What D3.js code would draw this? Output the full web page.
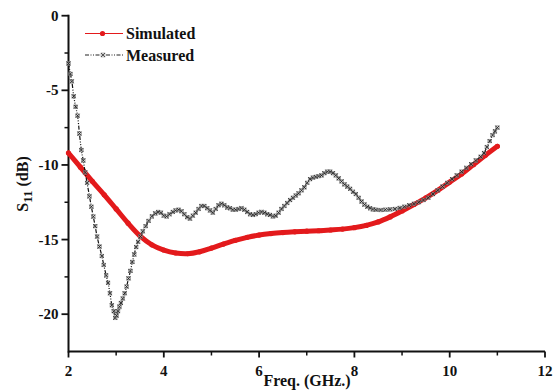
<!DOCTYPE html>
<html><head><meta charset="utf-8">
<script src="https://cdn.jsdelivr.net/npm/d3@7"></script>
<style>body{margin:0;background:#fff}svg{display:block}</style>
</head><body>
<svg id="c" width="556" height="391"></svg>
<script>
// ---- data ----
const simFreq = [2.0,2.25,2.5,2.75,3.0,3.25,3.5,3.75,4.0,4.25,4.5,4.75,5.0,5.25,5.5,5.75,6.0,6.25,6.5,6.75,7.0,7.25,7.5,7.75,8.0,8.25,8.5,8.75,9.0,9.25,9.5,9.75,10.0,10.25,10.5,10.75,11.0];
const simS11 = [-9.2,-10.15,-11.1,-12.0,-12.95,-13.9,-14.75,-15.35,-15.7,-15.9,-15.95,-15.82,-15.57,-15.3,-15.05,-14.85,-14.7,-14.6,-14.53,-14.48,-14.44,-14.41,-14.36,-14.3,-14.2,-14.05,-13.82,-13.48,-13.08,-12.65,-12.2,-11.7,-11.15,-10.6,-9.98,-9.35,-8.75];

const measFreq = [2.00,2.04,2.07,2.11,2.15,2.19,2.23,2.27,2.31,2.35,2.39,2.44,2.48,2.52,2.56,2.60,2.65,2.70,2.74,2.79,2.83,2.87,2.91,2.95,2.98,3.01,3.04,3.07,3.10,3.14,3.18,3.22,3.26,3.30,3.34,3.38,3.42,3.46,3.51,3.56,3.62,3.68,3.75,3.82,3.88,3.94,4.00,4.06,4.12,4.19,4.25,4.31,4.37,4.43,4.49,4.55,4.61,4.67,4.73,4.79,4.85,4.91,4.97,5.03,5.09,5.15,5.21,5.27,5.33,5.39,5.45,5.51,5.57,5.63,5.69,5.75,5.81,5.87,5.93,5.99,6.05,6.11,6.17,6.23,6.29,6.35,6.41,6.47,6.53,6.59,6.65,6.71,6.77,6.83,6.89,6.95,7.01,7.07,7.13,7.19,7.25,7.31,7.37,7.43,7.49,7.55,7.61,7.67,7.73,7.79,7.85,7.91,7.97,8.03,8.09,8.15,8.21,8.27,8.33,8.39,8.45,8.55,8.65,8.75,8.85,8.95,9.05,9.15,9.25,9.35,9.45,9.55,9.65,9.75,9.85,9.95,10.05,10.15,10.25,10.35,10.45,10.55,10.65,10.72,10.78,10.84,10.90,10.95,11.00];
const measS11 = [-3.2,-3.9,-4.4,-5.4,-6.1,-6.7,-7.9,-9.0,-9.7,-10.5,-11.2,-12.1,-12.8,-13.46,-14.1,-14.8,-15.47,-16.1,-16.7,-17.4,-17.9,-18.6,-19.4,-19.8,-20.25,-20.1,-19.8,-19.5,-19.25,-18.95,-18.6,-18.15,-17.6,-17.1,-16.5,-16.0,-15.5,-15.15,-14.8,-14.45,-14.1,-13.75,-13.45,-13.25,-13.15,-13.2,-13.4,-13.45,-13.3,-13.15,-13.05,-13.0,-13.1,-13.3,-13.5,-13.6,-13.4,-13.2,-12.95,-12.75,-12.75,-12.9,-13.05,-13.2,-12.95,-12.7,-12.6,-12.7,-12.85,-12.9,-13.0,-13.0,-12.95,-12.9,-13.0,-13.15,-13.3,-13.35,-13.3,-13.2,-13.15,-13.2,-13.3,-13.35,-13.45,-13.4,-13.2,-12.95,-12.75,-12.55,-12.35,-12.2,-12.05,-11.9,-11.7,-11.5,-11.2,-10.95,-10.85,-10.8,-10.75,-10.7,-10.55,-10.45,-10.45,-10.55,-10.7,-10.9,-11.1,-11.3,-11.45,-11.6,-11.8,-11.95,-12.2,-12.45,-12.65,-12.8,-12.9,-12.98,-13.0,-13.02,-13.0,-12.98,-12.95,-12.88,-12.8,-12.7,-12.6,-12.5,-12.35,-12.2,-11.95,-11.7,-11.45,-11.2,-10.95,-10.7,-10.45,-10.2,-9.95,-9.7,-9.45,-9.2,-8.8,-8.4,-8.0,-7.75,-7.5];

const xTicks = [2,4,6,8,10,12];
const yTicks = [0,-5,-10,-15,-20];
const seriesNames = ["Simulated","Measured"];

// ---- layout ----
const svg = d3.select("#c");
const x = d3.scaleLinear().domain([2,12]).range([68.5,545]);
const y = d3.scaleLinear().domain([-22.5,0]).range([351.5,15.7]);
const font = "'Liberation Serif','Times New Roman',serif";

// axes
const xAxis = svg.append("g").attr("transform","translate(0,351.5)");
xAxis.append("line").attr("x1",x(2)).attr("x2",x(12)).attr("stroke","#111").attr("stroke-width",2);
d3.range(3,12,2).forEach(v=>xAxis.append("line").attr("x1",x(v)).attr("x2",x(v)).attr("y1",0).attr("y2",4).attr("stroke","#111").attr("stroke-width",1.5));
xTicks.forEach(v=>{
  xAxis.append("line").attr("x1",x(v)).attr("x2",x(v)).attr("y1",0).attr("y2",6).attr("stroke","#111").attr("stroke-width",1.8);
  xAxis.append("text").attr("x",x(v)).attr("y",24).attr("text-anchor","middle")
    .attr("font-family",font).attr("font-weight","bold").attr("font-size",15).attr("fill","#111").text(v);
});

const yAxis = svg.append("g").attr("transform","translate(68.5,0)");
yAxis.append("line").attr("y1",y(0)-1).attr("y2",y(-22.5)+1).attr("stroke","#111").attr("stroke-width",2);
[-2.5,-7.5,-12.5,-17.5].forEach(v=>yAxis.append("line").attr("x1",0).attr("x2",-4).attr("y1",y(v)).attr("y2",y(v)).attr("stroke","#111").attr("stroke-width",1.5));
yTicks.forEach(v=>{
  yAxis.append("line").attr("x1",0).attr("x2",-7).attr("y1",y(v)).attr("y2",y(v)).attr("stroke","#111").attr("stroke-width",1.8);
  yAxis.append("text").attr("x",-10).attr("y",y(v)+5).attr("text-anchor","end")
    .attr("font-family",font).attr("font-weight","bold").attr("font-size",15).attr("fill","#111").text(v);
});

// axis titles
svg.append("text").attr("x",307).attr("y",386).attr("text-anchor","middle")
  .attr("font-family",font).attr("font-weight","bold").attr("font-size",16).attr("fill","#111").text("Freq. (GHz.)");
const yl = svg.append("text").attr("transform","translate(28,184) rotate(-90)").attr("text-anchor","middle")
  .attr("font-family",font).attr("font-weight","bold").attr("font-size",16).attr("fill","#111");
yl.append("tspan").text("S");
yl.append("tspan").attr("dy",4).attr("font-size",13).text("11");
yl.append("tspan").attr("dy",-4).text(" (dB)");

// series
const sim = simFreq.map((f,i)=>({f, v:simS11[i]}));
const meas = measFreq.map((f,i)=>({f, v:measS11[i]}));
const red = "#e31a1c";

const line = d3.line().x(d=>x(d.f)).y(d=>y(d.v)).curve(d3.curveCatmullRom);
svg.append("path").datum(sim).attr("d",line).attr("fill","none").attr("stroke",red).attr("stroke-width",5).attr("stroke-linecap","round");
svg.append("g").selectAll("circle").data(sim).join("circle")
  .attr("cx",d=>x(d.f)).attr("cy",d=>y(d.v)).attr("r",2.6).attr("fill",red);

svg.append("path").datum(meas).attr("d",line).attr("fill","none").attr("stroke","#111").attr("stroke-width",1.2)
  .attr("stroke-dasharray","4,1.5,1,1.5,1,1.5");
const mk = svg.append("g");
meas.forEach(d=>{
  const cx=x(d.f), cy=y(d.v), s=1.8;
  mk.append("rect").attr("x",cx-s).attr("y",cy-s).attr("width",2*s).attr("height",2*s)
    .attr("fill","#ccc").attr("fill-opacity",0.5).attr("stroke","#777").attr("stroke-width",0.6);
  mk.append("path").attr("d",`M${cx-s},${cy-s}L${cx+s},${cy+s}M${cx-s},${cy+s}L${cx+s},${cy-s}`)
    .attr("stroke","#222").attr("stroke-width",0.9);
});

// legend
const lg = svg.append("g");
lg.append("line").attr("x1",85).attr("x2",123).attr("y1",33.5).attr("y2",33.5).attr("stroke",red).attr("stroke-width",1.2);
lg.append("circle").attr("cx",102.5).attr("cy",33.5).attr("r",2.6).attr("fill",red);
lg.append("line").attr("x1",85).attr("x2",123).attr("y1",55).attr("y2",55).attr("stroke","#222").attr("stroke-width",1.1)
  .attr("stroke-dasharray","4,1.5,1,1.5,1,1.5");
lg.append("rect").attr("x",101).attr("y",53).attr("width",4).attr("height",4).attr("fill","#ddd").attr("stroke","#999").attr("stroke-width",0.6);
lg.append("path").attr("d","M101,53L105,57M101,57L105,53").attr("stroke","#333").attr("stroke-width",0.8);
seriesNames.forEach((n,i)=>{
  lg.append("text").attr("x",126).attr("y",[39,60.5][i])
    .attr("font-family",font).attr("font-weight","bold").attr("font-size",16).attr("fill","#111").text(n);
});
</script>
</body></html>
